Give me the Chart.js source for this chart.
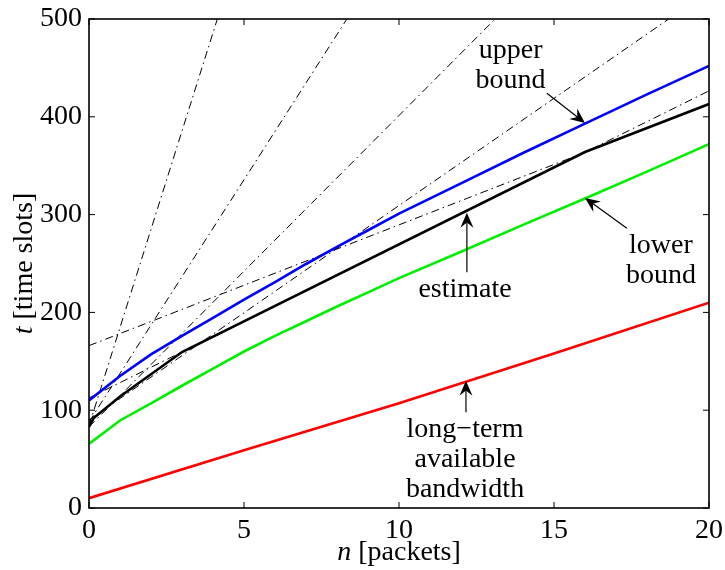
<!DOCTYPE html>
<html>
<head>
<meta charset="utf-8">
<script src="https://cdn.jsdelivr.net/npm/chart.js@4.4.0/dist/chart.umd.min.js"></script>
<style>
    html, body { margin: 0; padding: 0; background: #fff; overflow: hidden; }
    #wrap { width: 725px; height: 570px; position: relative; }
</style>
</head>
<body>
<div id="wrap"><canvas id="grafico"></canvas></div>
<script>
// --- Dados ---
const nGrid = [0, 1, 2, 3, 4, 5, 6, 7, 8, 9, 10, 12, 14, 16, 18, 20];
const tUpper = [110, 135, 157, 176, 194.5, 213, 231, 249.5, 267, 284, 301, 332, 363, 393, 423, 452];
const tLower = [65.5, 89.5, 107, 125, 142.5, 160, 176, 191, 206, 220.5, 235, 262, 289.5, 316.5, 344, 372];

const nEstimate = [0, 0.15, 1, 3, 16, 20];
const tEstimate = [83, 92, 114, 159.5, 364, 413];

const nLongTerm = [0, 5, 10, 15, 20];
const tLongTerm = [10, 59, 107, 158, 210];

// retas tracejadas (ponto inicial / ponto final)
const tangentN = [[0, 4.14], [0, 8.32], [0, 13.1], [0, 18.7], [0, 20], [0, 20]];
const tangentT = [[84, 500], [88, 500], [83, 500], [90, 500], [112.5, 426.5], [166, 413]];

const xTicks = [0, 5, 10, 15, 20];
const yTicks = [0, 100, 200, 300, 400, 500];

// --- Anotações ---
const anotacoes = [
    { linhas: ['upper', 'bound'], n: 13.6, t: 468, seta: [14.77, 424, 16, 393.7] },
    { linhas: ['estimate'], n: 12.13, t: 223, seta: [12.19, 241, 12.19, 302] },
    { linhas: ['lower', 'bound'], n: 18.45, t: 268, seta: [17.35, 286, 16, 317] },
    { linhas: ['long\u2212term', 'available', 'bandwidth'], n: 12.13, t: 80, seta: [12.16, 98, 12.16, 130] }
];

const FONTE = '"Liberation Serif", "Times New Roman", serif';

function pontos(ns, ts) {
    return ns.map((v, i) => ({ x: v, y: ts[i] }));
}

function serieSolida(dados, cor) {
    return {
        data: dados,
        borderColor: cor,
        borderWidth: 2.6,
        pointRadius: 0,
        fill: false,
        tension: 0
    };
}

const datasets = [
    serieSolida(pontos(nGrid, tUpper), '#0000ff'),
    serieSolida(pontos(nEstimate, tEstimate), '#000000'),
    serieSolida(pontos(nGrid, tLower), '#00ee00'),
    serieSolida(pontos(nLongTerm, tLongTerm), '#ff0000')
];

tangentN.forEach((ns, i) => {
    datasets.push({
        data: pontos(ns, tangentT[i]),
        borderColor: '#000000',
        borderWidth: 1,
        borderDash: [8, 4, 1.5, 4],
        pointRadius: 0,
        fill: false
    });
});

function desenharSeta(ctx, x1, y1, x2, y2) {
    const ang = Math.atan2(y2 - y1, x2 - x1);
    const comp = 15, larg = 6.5;
    ctx.beginPath();
    ctx.moveTo(x1, y1);
    ctx.lineTo(x2 - Math.cos(ang) * 4, y2 - Math.sin(ang) * 4);
    ctx.stroke();
    ctx.save();
    ctx.translate(x2, y2);
    ctx.rotate(ang);
    ctx.beginPath();
    ctx.moveTo(0, 0);
    ctx.lineTo(-comp, -larg);
    ctx.lineTo(-comp * 0.65, 0);
    ctx.lineTo(-comp, larg);
    ctx.closePath();
    ctx.fill();
    ctx.restore();
}

// --- Plugin: moldura, marcas internas, títulos e anotações ---
const pluginExtras = {
    id: 'extras',
    afterDatasetsDraw(chart) {
        const ctx = chart.ctx;
        const area = chart.chartArea;
        const sx = chart.scales.x;
        const sy = chart.scales.y;

        ctx.save();
        ctx.strokeStyle = '#000';
        ctx.fillStyle = '#000';

        // marcas internas (todos os lados)
        ctx.lineWidth = 1;
        xTicks.forEach(v => {
            const px = sx.getPixelForValue(v);
            ctx.beginPath();
            ctx.moveTo(px, area.bottom); ctx.lineTo(px, area.bottom - 6);
            ctx.moveTo(px, area.top); ctx.lineTo(px, area.top + 6);
            ctx.stroke();
        });
        yTicks.forEach(v => {
            const py = sy.getPixelForValue(v);
            ctx.beginPath();
            ctx.moveTo(area.left, py); ctx.lineTo(area.left + 6, py);
            ctx.moveTo(area.right, py); ctx.lineTo(area.right - 6, py);
            ctx.stroke();
        });

        // moldura
        ctx.lineWidth = 1.6;
        ctx.strokeRect(area.left, area.top, area.right - area.left, area.bottom - area.top);

        // anotações
        ctx.font = '28px ' + FONTE;
        ctx.textAlign = 'center';
        ctx.textBaseline = 'middle';
        anotacoes.forEach(a => {
            const cx = sx.getPixelForValue(a.n);
            const cy = sy.getPixelForValue(a.t);
            a.linhas.forEach((txt, i) => {
                ctx.fillText(txt, cx, cy + i * 30);
            });
            ctx.lineWidth = 1.2;
            desenharSeta(ctx,
                sx.getPixelForValue(a.seta[0]), sy.getPixelForValue(a.seta[1]),
                sx.getPixelForValue(a.seta[2]), sy.getPixelForValue(a.seta[3]));
        });

        // título do eixo x: "n [packets]"
        ctx.textBaseline = 'alphabetic';
        ctx.textAlign = 'left';
        const fItal = 'italic 28px ' + FONTE;
        const fNorm = '28px ' + FONTE;
        ctx.font = fItal;
        const wN = ctx.measureText('n').width;
        ctx.font = fNorm;
        const wResto = ctx.measureText(' [packets]').width;
        let x0 = (area.left + area.right) / 2 - (wN + wResto) / 2;
        ctx.font = fItal;
        ctx.fillText('n', x0, 560);
        ctx.font = fNorm;
        ctx.fillText(' [packets]', x0 + wN, 560);

        // título do eixo y: "t [time slots]"
        ctx.save();
        ctx.translate(32, (area.top + area.bottom) / 2);
        ctx.rotate(-Math.PI / 2);
        ctx.font = fItal;
        const wT = ctx.measureText('t').width;
        ctx.font = fNorm;
        const wResto2 = ctx.measureText(' [time slots]').width;
        x0 = -(wT + wResto2) / 2;
        ctx.font = fItal;
        ctx.fillText('t', x0, 0);
        ctx.font = fNorm;
        ctx.fillText(' [time slots]', x0 + wT, 0);
        ctx.restore();

        ctx.restore();
    }
};

// --- Configuração do Gráfico ---
const ctx = document.getElementById('grafico');
const meuGrafico = new Chart(ctx, {
    type: 'line',
    data: { datasets: datasets },
    options: {
        responsive: true,
        maintainAspectRatio: false,
        animation: false,
        layout: {
            padding: { top: 19, right: 16, left: 0, bottom: 0 }
        },
        plugins: {
            legend: { display: false },
            tooltip: { enabled: false }
        },
        scales: {
            x: {
                type: 'linear',
                min: 0,
                max: 20,
                afterBuildTicks: (scale) => { scale.ticks = xTicks.map(v => ({ value: v })); },
                afterFit: (scale) => {
                    scale.height = 62;
                    scale.paddingLeft = 0;
                    scale.paddingRight = 0;
                },
                grid: { display: false, drawTicks: false },
                border: { display: false },
                ticks: {
                    color: '#000',
                    padding: 6,
                    maxRotation: 0,
                    font: { family: FONTE, size: 28 }
                }
            },
            y: {
                type: 'linear',
                min: 0,
                max: 500,
                afterBuildTicks: (scale) => { scale.ticks = yTicks.map(v => ({ value: v })); },
                afterFit: (scale) => {
                    scale.width = 89;
                    scale.paddingTop = 0;
                    scale.paddingBottom = 0;
                },
                grid: { display: false, drawTicks: false },
                border: { display: false },
                ticks: {
                    color: '#000',
                    padding: 7,
                    font: { family: FONTE, size: 28 }
                }
            }
        }
    },
    plugins: [pluginExtras]
});
</script>
</body>
</html>
